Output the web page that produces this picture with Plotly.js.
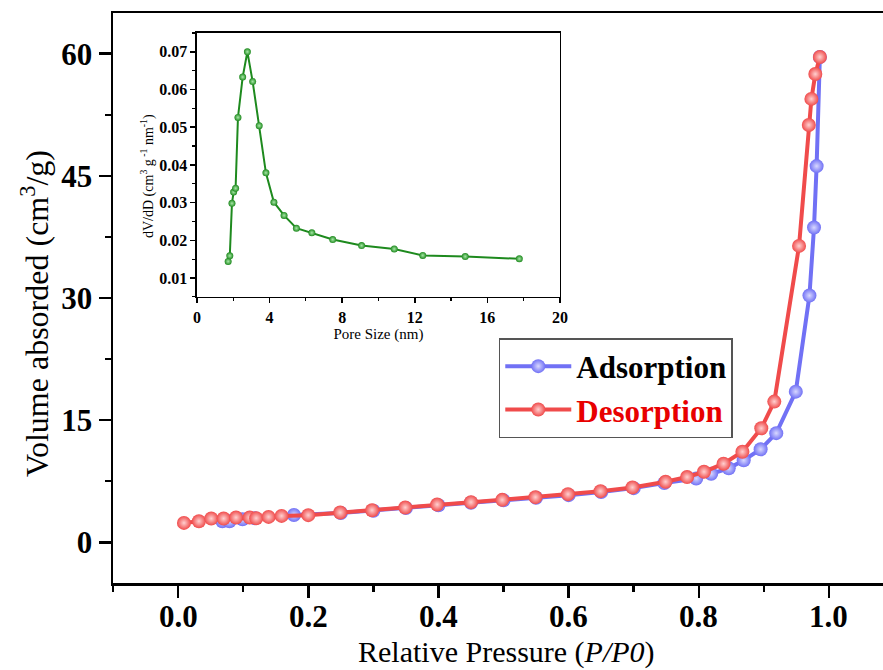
<!DOCTYPE html>
<html>
<head>
<meta charset="utf-8">
<script src="https://cdn.plot.ly/plotly-3.0.1.min.js"></script>
<style>html,body{margin:0;padding:0;background:#fff;}#chart{width:883px;height:670px;}</style>
</head>
<body>
<div id="chart"></div>
<script>
// Main isotherm data (Relative pressure P/P0 vs volume adsorbed, cm3/g)
const adsP = [0.068, 0.079, 0.099, 0.118, 0.178, 0.25, 0.30, 0.35, 0.40, 0.45, 0.50, 0.55, 0.60, 0.65, 0.70, 0.747, 0.796, 0.819, 0.846, 0.869, 0.895, 0.919, 0.949, 0.970, 0.977, 0.981, 0.986];
const adsV = [2.59, 2.59, 2.83, 2.96, 3.36, 3.6, 3.88, 4.2, 4.55, 4.85, 5.15, 5.47, 5.79, 6.18, 6.65, 7.27, 7.84, 8.42, 9.08, 10.07, 11.42, 13.4, 18.5, 30.3, 38.65, 46.2, 59.6];
const desP = [0.009, 0.032, 0.051, 0.070, 0.089, 0.110, 0.120, 0.139, 0.159, 0.200, 0.249, 0.298, 0.349, 0.398, 0.450, 0.498, 0.549, 0.599, 0.649, 0.698, 0.749, 0.782, 0.808, 0.838, 0.867, 0.896, 0.916, 0.954, 0.969, 0.973, 0.979, 0.986];
const desV = [2.38, 2.59, 2.92, 2.92, 3.04, 3.04, 2.96, 3.12, 3.24, 3.33, 3.66, 3.94, 4.27, 4.64, 4.93, 5.21, 5.54, 5.91, 6.28, 6.74, 7.43, 8.01, 8.66, 9.65, 11.12, 14.0, 17.28, 36.4, 51.25, 54.45, 57.5, 59.6];
// Inset pore size distribution
const poreSize = [1.72, 1.81, 1.93, 2.02, 2.13, 2.26, 2.52, 2.78, 3.07, 3.43, 3.80, 4.24, 4.80, 5.48, 6.33, 7.48, 9.07, 10.87, 12.44, 14.78, 17.76];
const dVdD = [0.0144, 0.0159, 0.0298, 0.0328, 0.0338, 0.0526, 0.0633, 0.0700, 0.0621, 0.0504, 0.0379, 0.0301, 0.0266, 0.0232, 0.0220, 0.0202, 0.0186, 0.0177, 0.0160, 0.0157, 0.0151];
const xTickVals = [0, 0.2, 0.4, 0.6, 0.8, 1.0];
const xTickText = ['0.0', '0.2', '0.4', '0.6', '0.8', '1.0'];
const yTickVals = [0, 15, 30, 45, 60];

const FONT = 'Liberation Serif, Times New Roman, serif';
const BLUE = '#7171F5';
const RED = '#F04B4B';
const GREEN = '#1E8A1E';

const traces = [
  {
    x: adsP, y: adsV, type: 'scatter', mode: 'lines+markers',
    name: '<b>Adsorption</b>',
    line: {color: BLUE, width: 4},
    marker: {color: BLUE, size: 14, gradient: {type: 'radial', color: '#D8D8FF'}, line: {width: 0}},
    xaxis: 'x', yaxis: 'y'
  },
  {
    x: desP, y: desV, type: 'scatter', mode: 'lines+markers',
    name: '<b><span style="color:#E80000">Desorption</span></b>',
    line: {color: RED, width: 4},
    marker: {color: RED, size: 14, gradient: {type: 'radial', color: '#FFD0D0'}, line: {width: 0}},
    xaxis: 'x', yaxis: 'y'
  },
  {
    x: poreSize, y: dVdD, type: 'scatter', mode: 'lines+markers',
    showlegend: false,
    line: {color: GREEN, width: 2},
    marker: {color: GREEN, size: 7, gradient: {type: 'radial', color: '#A8E8A8'}, line: {width: 0}},
    xaxis: 'x2', yaxis: 'y2'
  }
];

const xTickLabelY = (583 - 616) / 570;
const tickAnnotations = xTickVals.map((v, i) => ({
  text: '<b>' + xTickText[i] + '</b>',
  xref: 'x', yref: 'paper', x: v, y: xTickLabelY,
  xanchor: 'center', yanchor: 'middle', showarrow: false,
  font: {family: FONT, size: 31, color: '#000'}
}));

const layout = {
  width: 883, height: 670,
  margin: {l: 113, r: 0, t: 13, b: 87},
  paper_bgcolor: '#fff', plot_bgcolor: '#fff',
  font: {family: FONT, color: '#000'},
  showlegend: true,
  legend: {
    x: 0.501, y: (583 - 338) / 570, xanchor: 'left', yanchor: 'top',
    bgcolor: '#fff', bordercolor: '#555', borderwidth: 1.5,
    font: {family: FONT, size: 31, color: '#000'},
    itemwidth: 66, tracegroupgap: 0
  },
  xaxis: {
    domain: [0, 1],
    range: [-0.1, 1.083],
    tickvals: xTickVals, showticklabels: false,
    ticks: 'outside', ticklen: 12, tickwidth: 2.5, tickcolor: '#000',
    minor: {dtick: 0.2, tick0: 0.1, ticks: 'outside', ticklen: 6, tickwidth: 2.5, tickcolor: '#000'},
    showline: true, linewidth: 2.5, linecolor: '#000', mirror: true,
    showgrid: false, zeroline: false
  },
  yaxis: {
    domain: [0, 1],
    range: [-5, 65],
    tickvals: yTickVals,
    ticks: 'outside', ticklen: 12, tickwidth: 2.5, tickcolor: '#000',
    minor: {dtick: 15, tick0: 7.5, ticks: 'outside', ticklen: 6, tickwidth: 2.5, tickcolor: '#000'},
    showline: true, linewidth: 2.5, linecolor: '#000',
    showgrid: false, zeroline: false,
    tickfont: {family: FONT, size: 31, color: '#000', weight: 'bold'}
  },
  xaxis2: {
    domain: [0.109, 0.5805], anchor: 'y2',
    range: [0, 20], dtick: 4, tick0: 0,
    ticks: 'outside', ticklen: 5, tickwidth: 1.5, tickcolor: '#000',
    minor: {dtick: 2, ticks: 'outside', ticklen: 3, tickwidth: 1.2, tickcolor: '#000'},
    showline: true, linewidth: 1.5, linecolor: '#000', mirror: true,
    showgrid: false, zeroline: false,
    tickfont: {family: FONT, size: 16, color: '#000', weight: 'bold'},
    title: {text: 'Pore Size (nm)', font: {family: FONT, size: 15, color: '#000'}, standoff: 2}
  },
  yaxis2: {
    domain: [0.502, 0.965], anchor: 'x2',
    range: [0.005, 0.075], dtick: 0.01, tick0: 0.01, tickformat: '.2f',
    ticks: 'outside', ticklen: 5, tickwidth: 1.5, tickcolor: '#000',
    minor: {dtick: 0.005, ticks: 'outside', ticklen: 3, tickwidth: 1.2, tickcolor: '#000'},
    showline: true, linewidth: 1.5, linecolor: '#000', mirror: true,
    showgrid: false, zeroline: false,
    tickfont: {family: FONT, size: 16, color: '#000', weight: 'bold'}
  },
  annotations: tickAnnotations.concat([
    {
      text: 'Relative Pressure (<i>P/P0</i>)',
      xref: 'paper', yref: 'paper', x: 0.511, y: (583 - 652) / 570,
      xanchor: 'center', yanchor: 'middle', showarrow: false,
      font: {family: FONT, size: 30, color: '#000'}
    },
    {
      text: 'Volume absorded (cm<sup>3</sup>/g)',
      xref: 'paper', yref: 'paper', x: (35 - 113) / 770, y: (583 - 314) / 570,
      xanchor: 'center', yanchor: 'middle', showarrow: false, textangle: -90,
      font: {family: FONT, size: 32, color: '#000'}
    },
    {
      text: 'dV/dD (cm<sup>3</sup> g<sup> -1</sup> nm<sup>-1</sup>)',
      xref: 'paper', yref: 'paper', x: (147 - 113) / 770, y: (583 - 176) / 570,
      xanchor: 'center', yanchor: 'middle', showarrow: false, textangle: -90,
      font: {family: FONT, size: 14, color: '#000'}
    }
  ])
};

Plotly.newPlot('chart', traces, layout, {displayModeBar: false, staticPlot: true});
</script>
</body>
</html>
